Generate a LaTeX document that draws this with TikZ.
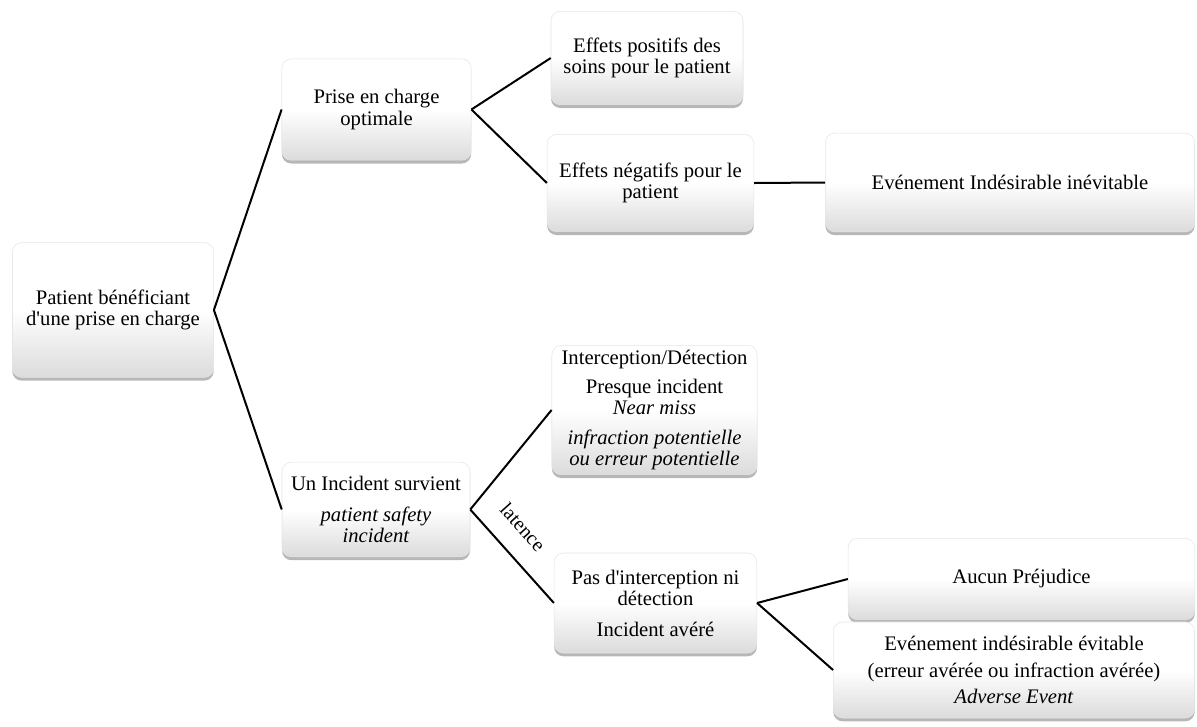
\documentclass[tikz,border=0pt]{standalone}
\usepackage{fontspec}
\setmainfont{Liberation Serif}
\usetikzlibrary{shadows}
\tikzstyle{every box} = []
\tikzstyle{box} = [rectangle, rounded corners=7pt, draw=black!10, align=center,
  top color=white, bottom color=black!14, middle color=white, inner sep=1pt,
  drop shadow={shadow xshift=0pt, shadow yshift=-2.5pt, opacity=0.4, fill=black!70},
  font=\fontsize{15.5}{16}\selectfont, every box]
\tikzstyle{link} = [line width=1.5pt, black]

\begin{document}
\begin{tikzpicture}[x=0.75pt, y=0.75pt]
                    \useasboundingbox (0,0) rectangle (1197,-726);
                    \node[box, minimum width=151pt, minimum height=101pt] (patient) at (113,-310) {Patient bénéficiant\\d\textquotesingle une prise en charge};

                    \node[box, minimum width=142pt, minimum height=76pt] (prise) at (376.5,-109.5) {Prise en charge\\optimale};
                    \node[box, minimum width=144pt, minimum height=70pt] (positifs) at (647,-58) {Effets positifs des\\soins pour le patient};
                    \node[box, minimum width=155pt, minimum height=73pt] (negatifs) at (650.5,-183) {Effets négatifs pour le\\patient};
                    \node[box, minimum width=277pt, minimum height=74pt] (inevitable) at (1010,-182.5) {Evénement Indésirable inévitable};

                    \node[box, minimum width=141pt, minimum height=71pt] (incident) at (376,-509.5) {Un Incident survient\\[7pt]\textit{patient safety}\\\textit{incident}};
                    \node[box, minimum width=154pt, minimum height=97pt] (interception) at (654.5,-410) {Interception/Détection\\[6pt]Presque incident\\\textit{Near miss}\\[6pt]\textit{infraction potentielle}\\\textit{ou erreur potentielle}};
                    \node[box, minimum width=152pt, minimum height=75pt] (pas) at (655.5,-603) {Pas d\textquotesingle interception ni\\détection\\[7pt]Incident avéré};
                    \node[box, minimum width=260pt, minimum height=61pt] (aucun) at (1021.5,-579) {Aucun Préjudice};
                    \node[box, minimum width=271pt, minimum height=72pt] (evitable) at (1014,-670) {Evénement indésirable évitable\\[4pt](erreur avérée ou infraction avérée)\\[4pt]\textit{Adverse Event}};

                    \draw[link] (patient.east) -- (prise.west);
                    \draw[link] (patient.east) -- (incident.west);
                    \draw[link] (prise.east) -- (positifs.west);
                    \draw[link] (prise.east) -- (negatifs.west);
                    \draw[link] (negatifs.east) -- (inevitable.west);
                    \draw[link] (incident.east) -- (interception.west);
                    \draw[link] (incident.east) -- (pas.west);
                    \draw[link] (pas.east) -- (aucun.west);
                    \draw[link] (pas.east) -- (evitable.west);

                    \node[rotate=-48, font=\fontsize{15}{16}\selectfont] (latence) at (523,-527) {latence};
                \end{tikzpicture}
\end{document}
